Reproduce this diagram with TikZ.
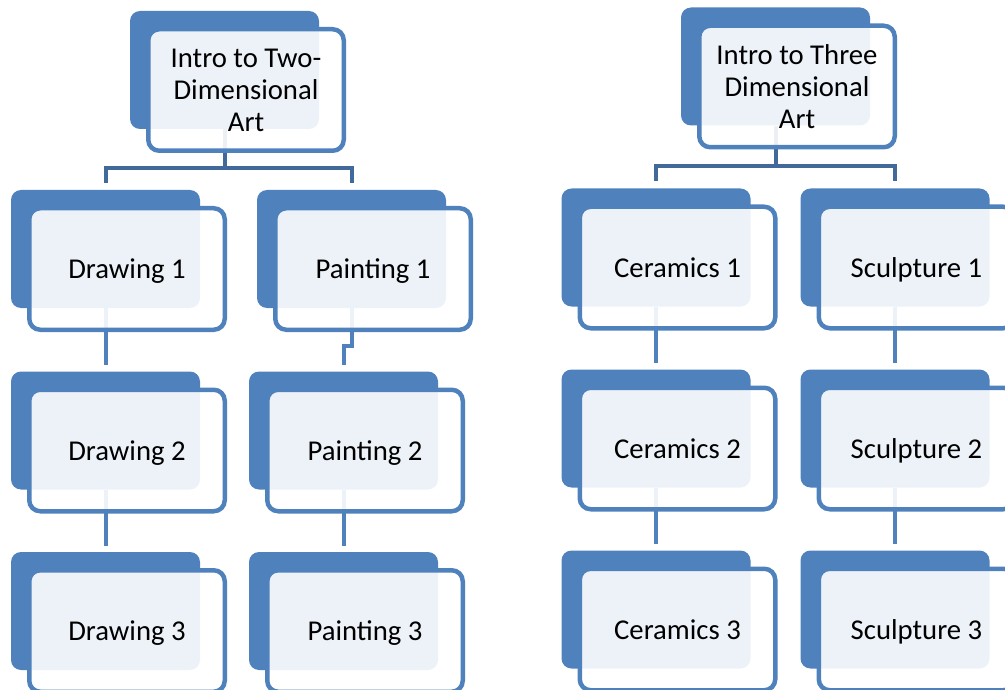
\documentclass[tikz,border=0pt]{standalone}
\usepackage{fontspec}
\setmainfont{Carlito}
\usetikzlibrary{backgrounds}
\definecolor{artblue}{RGB}{79,129,189}
\definecolor{linkblue}{RGB}{65,105,154}
\newcommand{\artfont}{\fontsize{28.7}{32}\selectfont}
\tikzset{
  backbox/.style={fill=artblue, rounded corners=10pt, minimum width=189pt,
    minimum height=118pt, inner sep=0pt},
  frontbox/.style={draw=artblue, line width=4.5pt, fill=white, fill opacity=0.9,
    text opacity=1, rounded corners=11pt, minimum width=195.5pt,
    minimum height=121.5pt, inner sep=0pt, align=center, font=\artfont},
  onerow/.style={frontbox, text height=19pt, text depth=0pt},
  mainlink/.style={draw=linkblue, line width=4pt},
  sublink/.style={draw=artblue, line width=4pt},
}
\begin{document}
\begin{tikzpicture}[x=1pt,y=-1pt]
  \useasboundingbox (0,0) rectangle (1005,690);
  \clip (0,0) rectangle (1005,690);
  % two-dimensional track
  \node[backbox] (t2) at (224.5,70) {};
  \node[frontbox] (t2f) at (246,90) {Intro to Two-\\Dimensional\\Art};
  \node[backbox] (d1) at (105.5,249) {};
  \node[onerow] (d1f) at (127,269) {Drawing 1};
  \node[backbox] (d2) at (105.5,430.5) {};
  \node[onerow] (d2f) at (127,450.5) {Drawing 2};
  \node[backbox] (d3) at (105.5,611) {};
  \node[onerow] (d3f) at (127,631) {Drawing 3};
  \node[backbox] (p1) at (351.5,249) {};
  \node[onerow] (p1f) at (373,269) {Painting 1};
  \node[backbox] (p2) at (343.5,430.5) {};
  \node[onerow] (p2f) at (365,450.5) {Painting 2};
  \node[backbox] (p3) at (343.5,611) {};
  \node[onerow] (p3f) at (365,631) {Painting 3};
  % three-dimensional track
  \node[backbox] (t3) at (775.5,66.5) {};
  \node[frontbox] (t3f) at (797,86.5) {Intro to Three\\Dimensional\\Art};
  \node[backbox] (c1) at (656,247.5) {};
  \node[onerow] (c1f) at (677.5,267.5) {Ceramics 1};
  \node[backbox] (c2) at (656,428.5) {};
  \node[onerow] (c2f) at (677.5,448.5) {Ceramics 2};
  \node[backbox] (c3) at (656,609.5) {};
  \node[onerow] (c3f) at (677.5,629.5) {Ceramics 3};
  \node[backbox] (s1) at (895,247.5) {};
  \node[onerow] (s1f) at (916.5,267.5) {Sculpture 1};
  \node[backbox] (s2) at (895,428.5) {};
  \node[onerow] (s2f) at (916.5,448.5) {Sculpture 2};
  \node[backbox] (s3) at (895,609.5) {};
  \node[onerow] (s3f) at (916.5,629.5) {Sculpture 3};
  \begin{pgfonlayer}{background}
    \draw[mainlink] (t2.south) -- ++(0,39) -| ([yshift=7pt]d1.north);
    \draw[mainlink] (t2.south) -- ++(0,39) -| ([yshift=7pt]p1.north);
    \draw[mainlink] (t3.south) -- ++(0,40.5) -| ([yshift=7pt]c1.north);
    \draw[mainlink] (t3.south) -- ++(0,40.5) -| ([yshift=7pt]s1.north);
    \draw[sublink] (d1.south) -- ([yshift=6pt]d2.north);
    \draw[sublink] (d2.south) -- ([yshift=6pt]d3.north);
    \draw[sublink] (p1.south) -- ++(0,38) -| ([yshift=6pt]p2.north);
    \draw[sublink] (p2.south) -- ([yshift=6pt]p3.north);
    \draw[sublink] (c1.south) -- ([yshift=6pt]c2.north);
    \draw[sublink] (c2.south) -- ([yshift=6pt]c3.north);
    \draw[sublink] (s1.south) -- ([yshift=6pt]s2.north);
    \draw[sublink] (s2.south) -- ([yshift=6pt]s3.north);
  \end{pgfonlayer}
\end{tikzpicture}
\end{document}
